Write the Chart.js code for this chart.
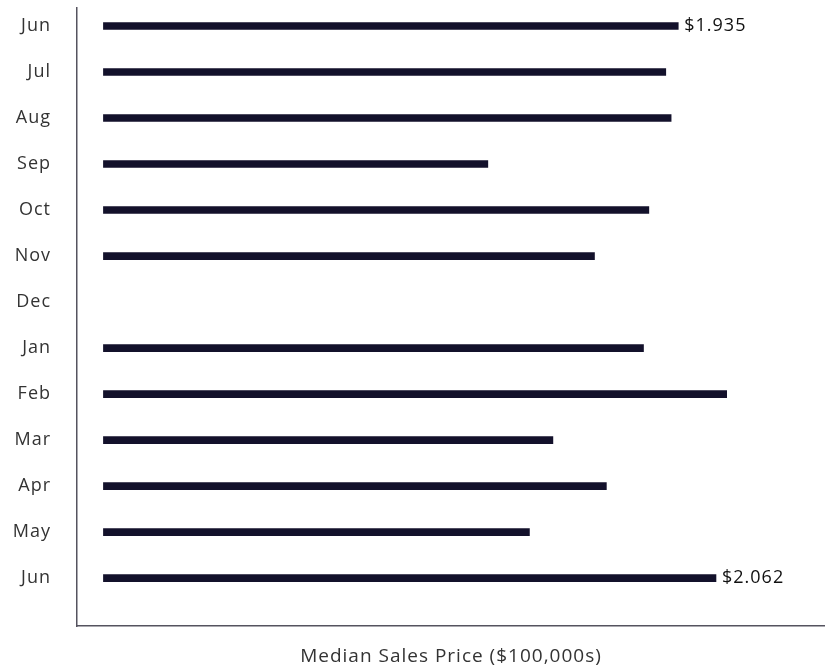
<!DOCTYPE html>
<html>
<head>
<meta charset="utf-8">
<script src="https://cdn.jsdelivr.net/npm/chart.js@4"></script>
<style>
  html, body { margin: 0; padding: 0; background: #fff; }
  #wrap { width: 825px; height: 666px; }
</style>
</head>
<body>
<div id="wrap"><canvas id="grafico"></canvas></div>
<script>
// months shown top to bottom
const meses = ['Jun', 'Jul', 'Aug', 'Sep', 'Oct', 'Nov', 'Dec', 'Jan', 'Feb', 'Mar', 'Apr', 'May', 'Jun'];
// median sales price in $100,000s (Dec has no data)
const precios = [1.935, 1.893, 1.911, 1.294, 1.836, 1.653, null, 1.818, 2.098, 1.513, 1.693, 1.434, 2.062];
// bars that get a value label
const etiquetados = [0, 12];

const colorBarra = '#13112b';
const colorEje = '#55535f';
const fuente = '"Open Sans", "Noto Sans", sans-serif';
const espaciado = '1px';

const datos = meses.map((m, i) => ({ x: precios[i], y: i }));

// wider tracking, like the original typeface
const espaciar = {
  id: 'espaciar',
  beforeUpdate(chart) { chart.ctx.letterSpacing = espaciado; },
  beforeDraw(chart) { chart.ctx.letterSpacing = espaciado; }
};

const etiquetasValor = {
  id: 'etiquetasValor',
  afterDatasetsDraw(chart) {
    const ctx = chart.ctx;
    const meta = chart.getDatasetMeta(0);
    ctx.save();
    ctx.font = '18px ' + fuente;
    ctx.fillStyle = '#111';
    ctx.textAlign = 'left';
    ctx.textBaseline = 'middle';
    etiquetados.forEach((i) => {
      const barra = meta.data[i];
      ctx.fillText('$' + precios[i].toFixed(3), barra.x + 6, barra.y);
    });
    ctx.restore();
  }
};

const grapharea = document.querySelector('#grafico').getContext('2d');

const config = {
  type: 'bar',
  data: {
    labels: meses,
    datasets: [{
      label: 'Median Sales Price',
      data: datos,
      backgroundColor: colorBarra,
      borderWidth: 0,
      barThickness: 7
    }]
  },
  options: {
    indexAxis: 'y',
    responsive: true,
    maintainAspectRatio: false,
    animation: false,
    layout: { padding: { top: 8, right: 0, bottom: 0, left: 0 } },
    plugins: { legend: { display: false }, tooltip: { enabled: false } },
    scales: {
      y: {
        type: 'linear',
        reverse: true,
        offset: false,
        min: -0.391,
        max: 13.04,
        grid: { display: false, drawTicks: false, offset: false },
        border: { display: true, color: colorEje, width: 1.5 },
        ticks: {
          stepSize: 1,
          includeBounds: false,
          autoSkip: false,
          padding: 26,
          color: '#333',
          font: { family: fuente, size: 18 },
          callback: (v) => (Number.isInteger(v) && meses[v]) ? meses[v] : ''
        },
        afterFit: (scale) => {
          scale.width = 77;
          scale.paddingTop = 0;
          scale.paddingBottom = 0;
        }
      },
      x: {
        type: 'linear',
        min: -0.089,
        max: 2.429,
        grid: { display: false, drawTicks: false },
        border: { display: true, color: colorEje, width: 1.5 },
        ticks: { display: false },
        title: {
          display: true,
          text: 'Median Sales Price ($100,000s)',
          color: '#333',
          font: { family: fuente, size: 19, lineHeight: 1 },
          padding: { top: 0, bottom: 0 }
        },
        afterFit: (scale) => {
          scale.height = 40;
          scale.paddingLeft = 0;
          scale.paddingRight = 0;
        }
      }
    }
  },
  plugins: [espaciar, etiquetasValor]
};

const myChart = new Chart(grapharea, config);
</script>
</body>
</html>
